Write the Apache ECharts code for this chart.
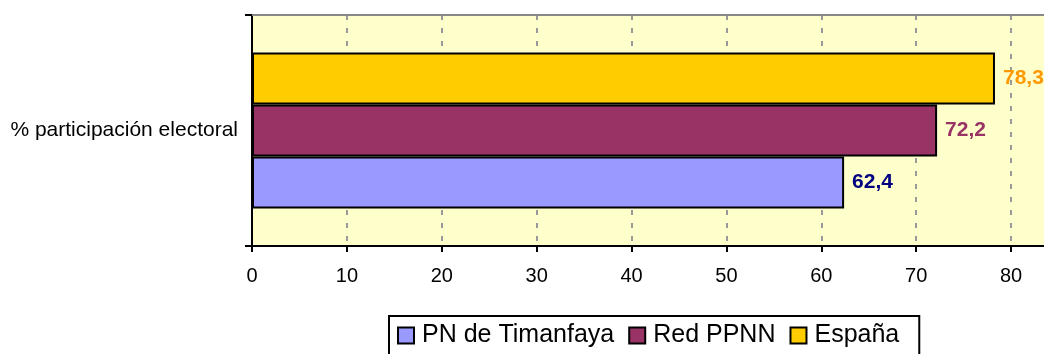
<!DOCTYPE html>
<html><head><meta charset="utf-8">
<script src="https://cdn.jsdelivr.net/npm/echarts@6/dist/echarts.min.js"></script>
<style>html,body{margin:0;padding:0;background:#fff}#c{width:1044px;height:354px}</style>
</head><body><div id="c"></div>
<script>
const categories = ['% participación electoral'];
const seriesNames = ['PN de Timanfaya', 'Red PPNN', 'España'];
const timanfaya = [62.4];
const redPPNN = [72.2];
const espana = [78.3];
const xTicks = [0, 10, 20, 30, 40, 50, 60, 70, 80, 90];

const colors = ['#9999ff', '#993366', '#ffcc00'];
const labelColors = ['#000080', '#993366', '#ff9900'];
const values = [timanfaya, redPPNN, espana];

const seriesList = seriesNames.map((n, i) => ({
  name: n, type: 'bar', data: values[i],
  barGap: '0%', barCategoryGap: '32.5%',
  itemStyle: {color: colors[i], borderColor: '#000', borderWidth: 2},
  label: {show: true, position: 'right', distance: 8, color: labelColors[i], fontWeight: 'bold', fontSize: 21,
    padding: [4, 0, 0, 0],
    formatter: p => String(p.value).replace('.', ',')}
})).reverse();

const chart = echarts.init(document.getElementById('c'), null, {renderer: 'canvas'});
chart.setOption({
  animation: false,
  textStyle: {fontFamily: 'Liberation Sans, Arial, sans-serif'},
  grid: {left: 252, top: 15, width: 854, height: 231, show: true, backgroundColor: '#ffffcc', borderWidth: 0, containLabel: false, outerBoundsMode: 'none'},
  xAxis: {
    type: 'value', min: xTicks[0], max: xTicks[xTicks.length - 1], interval: 10,
    axisLine: {show: true, lineStyle: {color: '#000', width: 2}},
    axisTick: {show: true, length: 6, lineStyle: {color: '#000', width: 2}},
    axisLabel: {color: '#000', fontSize: 20, margin: 20, formatter: v => String(v)},
    splitLine: {show: true, lineStyle: {color: '#999', width: 2, type: [5, 8]}}
  },
  yAxis: {
    type: 'category', data: categories,
    axisLine: {show: true, lineStyle: {color: '#000', width: 2}},
    axisTick: {show: true, length: 7, lineStyle: {color: '#000', width: 2}},
    axisLabel: {color: '#000', fontSize: 21, margin: 14},
    splitLine: {show: false}
  },
  graphic: [{type: 'line', shape: {x1: 252, y1: 15, x2: 1044, y2: 15}, style: {stroke: '#888', lineWidth: 2}, z: 10}],
  legend: {
    left: 389, top: 316,
    data: seriesNames,
    icon: 'rect', itemWidth: 16, itemHeight: 16, itemGap: 14,
    borderColor: '#000', borderWidth: 2, borderRadius: 0,
    padding: [7, 20, 10, 8],
    textStyle: {color: '#000', fontSize: 25, padding: [0, 0, 0, 3]},
    itemStyle: {borderColor: '#000', borderWidth: 2}
  },
  series: seriesList
});
</script></body></html>
